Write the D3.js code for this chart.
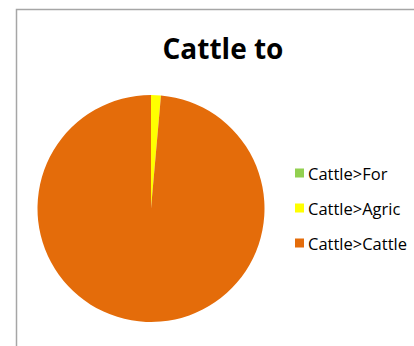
<!DOCTYPE html>
<html>
<head>
<meta charset="utf-8">
<script src="https://cdn.jsdelivr.net/npm/d3@7"></script>
<style>
  html, body { margin: 0; padding: 0; background: #fff; }
  svg { display: block; }
</style>
</head>
<body>
<svg id="chart" width="414" height="346"></svg>
<script>
// Land-use transitions from cattle pasture (percent of area)
const categories = ["Cattle>For", "Cattle>Agric", "Cattle>Cattle"];
const values = [0, 1.4, 98.6];
const colors = ["#92D050", "#FFFF00", "#E46C0A"];
const title = "Cattle to";

const svg = d3.select("#chart");

// chart area frame (continues past the right and bottom edges)
svg.append("rect")
  .attr("x", 16.5).attr("y", 9.5)
  .attr("width", 420).attr("height", 360)
  .attr("fill", "#fff")
  .attr("stroke", "#A6A6A6")
  .attr("stroke-width", 1.5);

svg.append("text")
  .attr("x", 223).attr("y", 59)
  .attr("text-anchor", "middle")
  .attr("font-family", "'Open Sans', 'Liberation Sans', sans-serif")
  .attr("font-weight", 700)
  .attr("font-size", 28)
  .attr("fill", "#000")
  .text(title);

const color = d3.scaleOrdinal().domain(categories).range(colors);

const pie = d3.pie().sort(null).value(d => d.value);
const data = categories.map((c, i) => ({ name: c, value: values[i] }));
const arc = d3.arc().innerRadius(0).outerRadius(113.5);

const g = svg.append("g").attr("transform", "translate(151,208.5)");
g.selectAll("path")
  .data(pie(data))
  .join("path")
  .attr("d", arc)
  .attr("fill", d => color(d.data.name));

// legend
const legend = svg.append("g").attr("transform", "translate(295,180)");
const rows = legend.selectAll("g")
  .data(categories)
  .join("g")
  .attr("transform", (d, i) => `translate(0,${i * 35})`);
rows.append("rect")
  .attr("x", 0).attr("y", -11.5)
  .attr("width", 9).attr("height", 9)
  .attr("fill", d => color(d));
rows.append("text")
  .attr("x", 13).attr("y", 0)
  .attr("font-family", "'Open Sans', 'Liberation Sans', sans-serif")
  .attr("font-size", 16.5)
  .attr("fill", "#000")
  .text(d => d);
</script>
</body>
</html>
